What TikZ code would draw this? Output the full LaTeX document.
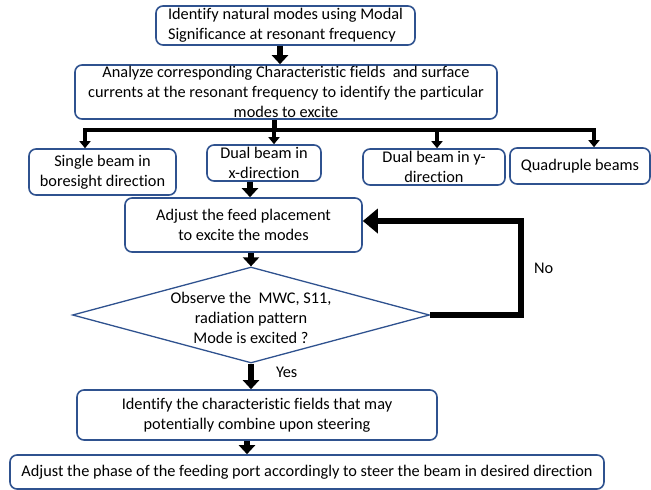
\documentclass[tikz,border=0pt]{standalone}
\usepackage{fontspec}
\setmainfont{Carlito}[Ligatures=NoCommon]
\usepackage{tikz}
\usetikzlibrary{arrows.meta,positioning,shapes.geometric}
\definecolor{boxline}{HTML}{2F528F}
\newcommand{\flowfont}{\fontsize{16.3}{20}\selectfont}

\begin{document}
\begin{tikzpicture}[x=1pt,y=1pt,
  box/.style={draw=boxline,line width=1.6pt,rounded corners=7pt,
  align=center,font=\flowfont,inner sep=0pt},
  lbl/.style={font=\flowfont,inner sep=0pt},
  flow/.style={line width=6pt,-{Triangle[width=16pt,length=9pt]}},
  drop/.style={line width=4pt,-{Triangle[width=11pt,length=7pt]}},
  back/.style={line width=6pt,-{Triangle[width=24pt,length=15pt]}}]
\useasboundingbox (0,0) rectangle (651,-490);
\node[box,align=left,minimum width=259pt,minimum height=39pt] (modes) at (285.5,-25.5)
  {Identify natural modes using Modal\\Significance at resonant frequency};
\node[box,minimum width=422pt,minimum height=54pt] (fields) at (286,-92)
  {Analyze corresponding Characteristic fields\ \ and surface\\
   currents at the resonant frequency to identify the particular\\modes to excite};
\node[box,minimum width=147pt,minimum height=46pt] (single) at (102.5,-172) {Single beam in\\boresight direction};
\node[box,minimum width=114pt,minimum height=36pt] (dualx) at (264,-163) {Dual beam in\\x-direction};
\node[box,minimum width=142pt,minimum height=36pt] (dualy) at (434,-167) {Dual beam in y-\\direction};
\node[box,minimum width=140pt,minimum height=36pt] (quad) at (580,-166) {Quadruple beams};
\node[box,minimum width=237pt,minimum height=54pt] (adjust) at (243.5,-225)
  {Adjust the feed placement\\to excite the modes};
\node[diamond,draw=boxline,line width=1.3pt,minimum width=357pt,minimum height=96pt,
  inner sep=0pt] (check) at (251,-315) {};
\node[lbl,align=center] (checktext) at ([yshift=-3pt]check.center)
  {Observe the\ \ MWC, S11,\\radiation pattern\\Mode is excited ?};
\node[box,minimum width=360pt,minimum height=50pt] (identify) at (257,-415)
  {Identify the characteristic fields that may\\potentially combine upon steering};
\node[box,minimum width=594pt,minimum height=34pt] (phase) at (307,-472)
  {Adjust the phase of the feeding port accordingly to steer the beam in desired direction};
% branching bar
\coordinate (bl) at (85,-130);
\coordinate (split) at (274,-130);
\coordinate (b3) at (437,-130);
\coordinate (br) at (594,-130);
\draw[flow] ([xshift=-5.5pt]modes.south) -- ([xshift=-6pt]fields.north);
\draw[line width=5pt] (fields.south -| split) -- (split);
\draw[line width=4pt,line cap=rect] (bl) -- (br);
\draw[drop] (bl) -- (bl |- single.north);
\draw[drop] (split) -- (split |- dualx.north);
\draw[drop] (b3) -- (b3 |- dualy.north);
\draw[drop] (br) -- (br |- quad.north);
\draw[flow] ([xshift=-14pt]dualx.south) -- ([xshift=6.5pt]adjust.north);
\draw[flow] ([xshift=7.5pt]adjust.south) -- (check.north);
\draw[flow] (check.south) -- node[lbl,pos=0.35,right=22pt]{Yes} ([xshift=-6pt]identify.north);
\draw[flow] ([xshift=-10pt]identify.south) -- ([xshift=-60pt]phase.north);
\draw[back] (check.east) -- ++(91,0) |- node[lbl,pos=0.25,right=10pt]{No} ([yshift=4pt]adjust.east);
\end{tikzpicture}
\end{document}
